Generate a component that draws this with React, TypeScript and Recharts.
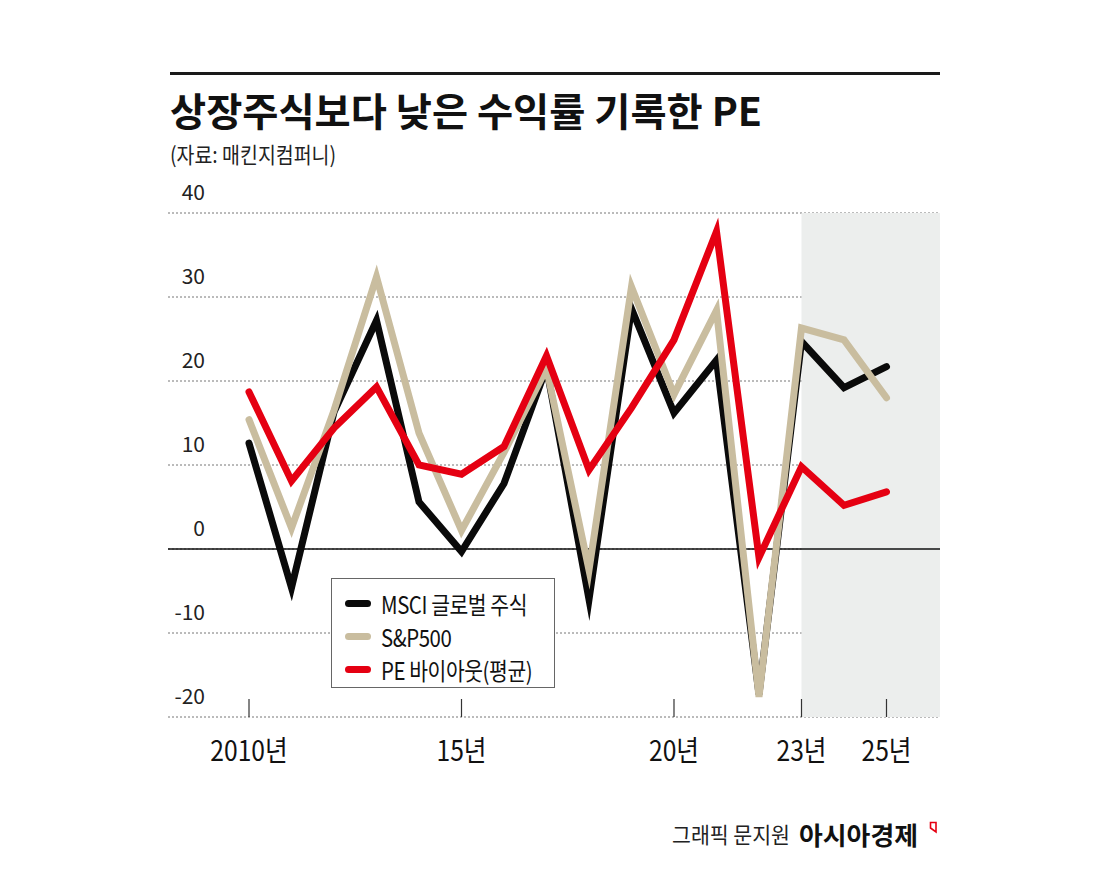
import React from 'react';
import { LineChart, Line, XAxis, YAxis, CartesianGrid, ReferenceArea, ReferenceLine } from 'recharts';

// 연도별 수익률(%)
const years = [2010, 2011, 2012, 2013, 2014, 2015, 2016, 2017, 2018, 2019, 2020, 2021, 2022, 2023, 2024, 2025];
const msciGlobal = [12.6, -4.6, 16.3, 27.2, 5.6, -0.3, 7.8, 21.6, -6, 28.6, 16.2, 22.5, -17.3, 24.7, 19.2, 21.7];
const sp500 = [15.4, 2.5, 16.5, 32.4, 13.8, 2.2, 11.5, 21.5, -2.5, 31.2, 18.4, 28.4, -17.6, 26.3, 24.9, 18];
const peBuyout = [18.7, 8.1, 14.4, 19.3, 10, 8.9, 12.2, 23, 9.4, 16.8, 24.9, 37.8, -1, 9.8, 5.2, 6.8];

const xTicks = [2010, 2015, 2020, 2023, 2025];
const xTickLabels = ['2010년', '15년', '20년', '23년', '25년'];
const yTicks = [-20, -10, 0, 10, 20, 30, 40];
const xDomain = [2008.094, 2026.259];
const shadeFrom = 2023;

const seriesNames = ['MSCI 글로벌 주식', 'S&P500', 'PE 바이아웃(평균)'];
const seriesColors = ['#0a0a0a', '#c9bd9f', '#e50012'];

const title = '상장주식보다 낮은 수익률 기록한 PE';
const source = '(자료: 매킨지컴퍼니)';
const credit = '그래픽 문지원';
const brand = '아시아경제';

const FONT = '"Noto Sans CJK KR", "Noto Sans", sans-serif';

const data = years.map((year, i) => ({
    year,
    msci: msciGlobal[i],
    sp: sp500[i],
    pe: peBuyout[i],
}));

const YTick = ({ x, y, payload }: any) => (
    <text x={x + 37} y={y - 13} textAnchor="end" fontSize={21} fontFamily={FONT} fill="#222">
        {payload.value}
    </text>
);

const XTick = ({ x, y, payload }: any) => {
    const label = xTickLabels[xTicks.indexOf(payload.value)];
    return (
        <g>
            <line x1={x} x2={x} y1={y - 18} y2={y} stroke="#333" strokeWidth={1.2} />
            <text
                transform={`translate(${x},${y + 44}) scale(0.88,1)`}
                textAnchor="middle"
                fontSize={28}
                fontFamily={FONT}
                fill="#111"
            >
                {label}
            </text>
        </g>
    );
};

export default function App() {
    const lineProps = {
        type: 'linear' as const,
        dot: false,
        activeDot: false,
        strokeWidth: 7,
        strokeLinecap: 'round' as const,
        strokeLinejoin: 'miter' as const,
        strokeMiterlimit: 8,
        isAnimationActive: false,
    };

    return (
        <div style={{ position: 'absolute', left: 0, top: 0, width: 1107, height: 886, background: '#fff' }}>
            <LineChart
                width={1107}
                height={886}
                data={data}
                margin={{ top: 213, right: 167, left: 108, bottom: 139 }}
                style={{ position: 'absolute', left: 0, top: 0 }}
            >
                <ReferenceArea x1={shadeFrom} x2={xDomain[1]} y1={-20} y2={40} fill="#eceeed" fillOpacity={1} stroke="none" />
                <CartesianGrid vertical={false} stroke="#777" strokeDasharray="2 2" />
                <ReferenceLine y={0} stroke="#111" strokeWidth={1.5} />
                <XAxis
                    dataKey="year"
                    type="number"
                    domain={xDomain}
                    allowDataOverflow
                    ticks={xTicks}
                    interval={0}
                    tick={<XTick />}
                    tickSize={0}
                    tickMargin={0}
                    tickLine={false}
                    axisLine={false}
                    height={30}
                />
                <YAxis
                    type="number"
                    domain={[-20, 40]}
                    ticks={yTicks}
                    interval={0}
                    tick={<YTick />}
                    tickSize={0}
                    tickMargin={0}
                    tickLine={false}
                    axisLine={false}
                    width={60}
                />
                <Line dataKey="msci" name={seriesNames[0]} stroke={seriesColors[0]} {...lineProps} />
                <Line dataKey="sp" name={seriesNames[1]} stroke={seriesColors[1]} {...lineProps} />
                <Line dataKey="pe" name={seriesNames[2]} stroke={seriesColors[2]} {...lineProps} />
            </LineChart>

            <svg width={1107} height={886} style={{ position: 'absolute', left: 0, top: 0, pointerEvents: 'none' }}>
                <rect x={170} y={72} width={770} height={3} fill="#1a1a1a" />
                <text x={170} y={126} fontSize={39} fontWeight={700} fontFamily={FONT} fill="#111" textLength={592} lengthAdjust="spacingAndGlyphs">
                    {title}
                </text>
                <text x={170} y={163} fontSize={22} fontFamily={FONT} fill="#222" textLength={166} lengthAdjust="spacingAndGlyphs">
                    {source}
                </text>
                <text x={672} y={843} fontSize={22} fontFamily={FONT} fill="#222" textLength={118} lengthAdjust="spacingAndGlyphs">
                    {credit}
                </text>
                <text x={799} y={845} fontSize={25} fontWeight={700} fontFamily={FONT} fill="#111" textLength={119} lengthAdjust="spacingAndGlyphs">
                    {brand}
                </text>
                <polygon points="930.5,822.5 936,822.5 936,832 930.5,828" fill="none" stroke="#e50012" strokeWidth={1.6} />
            </svg>

            <div
                style={{
                    position: 'absolute',
                    left: 331,
                    top: 578,
                    width: 222,
                    height: 108,
                    border: '1px solid #666',
                    background: '#fff',
                    fontFamily: FONT,
                }}
            >
                {seriesNames.map((name, i) => (
                    <div key={name} style={{ position: 'absolute', left: 13, top: 9 + i * 33, height: 30, display: 'flex', alignItems: 'center' }}>
                        <span style={{ display: 'inline-block', width: 26, height: 7, borderRadius: 4, background: seriesColors[i] }} />
                        <span
                            style={{
                                display: 'inline-block',
                                marginLeft: 10,
                                fontSize: 24,
                                color: '#111',
                                whiteSpace: 'nowrap',
                                transform: 'scaleX(0.85)',
                                transformOrigin: 'left center',
                                letterSpacing: -0.5,
                            }}
                        >
                            {name}
                        </span>
                    </div>
                ))}
            </div>
        </div>
    );
}
